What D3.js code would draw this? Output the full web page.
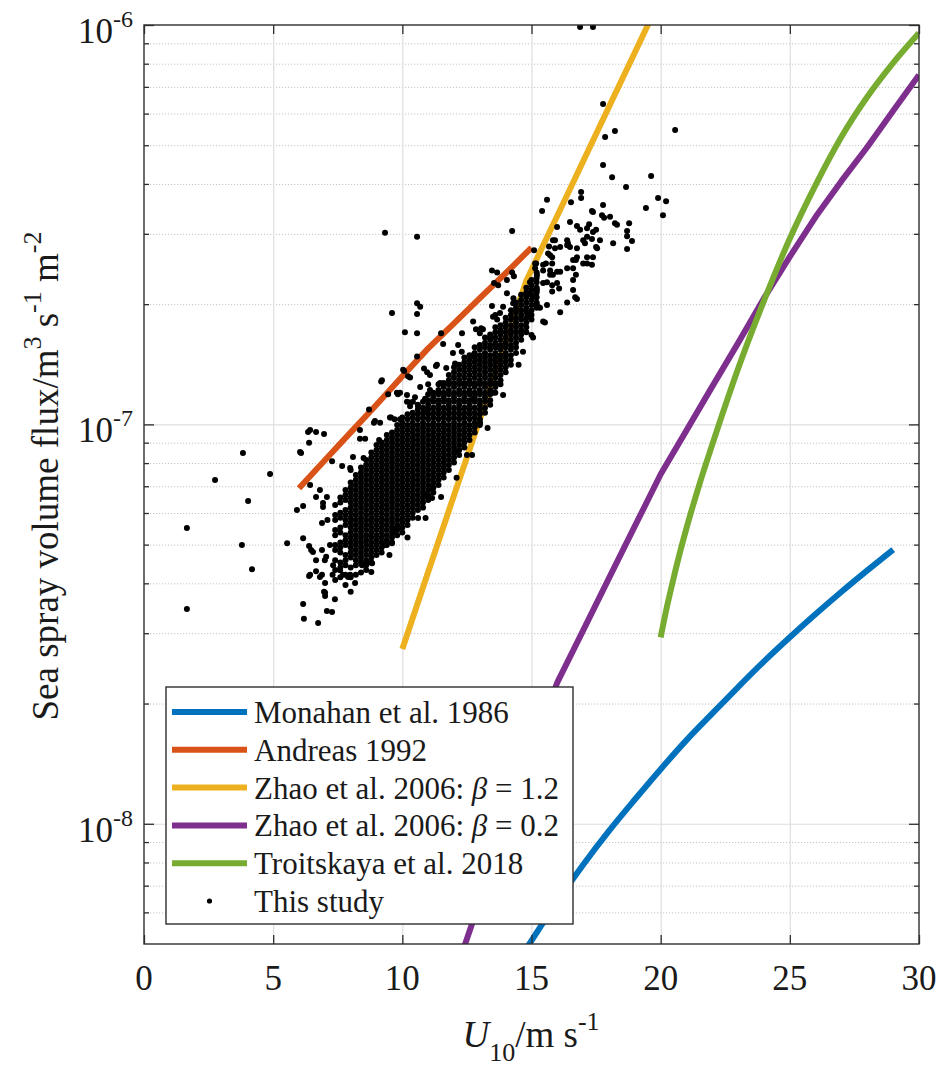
<!DOCTYPE html>
<html>
<head>
<meta charset="utf-8">
<title>Sea spray volume flux vs U10</title>
<script src="https://cdn.jsdelivr.net/npm/d3@7"></script>
<style>
html,body{margin:0;padding:0;background:#fff;}
svg{display:block;}
text{font-family:"Liberation Serif","Times New Roman",Times,serif;fill:#1a1a1a;}
</style>
</head>
<body>
<svg id="chart" width="941" height="1068"></svg>
<script>
// ================= DATA =================
const xDomain = [0, 30];
const yDomain = [5e-9, 1e-6];
const xTickValues = [0, 5, 10, 15, 20, 25, 30];
const yMajorTickValues = [1e-8, 1e-7, 1e-6];
const yTickLabelExponents = ["-8", "-7", "-6"];
const yMinorTickValues = [6e-9,7e-9,8e-9,9e-9,2e-8,3e-8,4e-8,5e-8,6e-8,7e-8,8e-8,9e-8,2e-7,3e-7,4e-7,5e-7,6e-7,7e-7,8e-7,9e-7];

const seriesNames = ["Monahan et al. 1986", "Andreas 1992", "Zhao et al. 2006: β = 1.2",
                     "Zhao et al. 2006: β = 0.2", "Troitskaya et al. 2018", "This study"];

// Monahan et al. 1986
const monahanU = [14,15,16,17,18,19,20,21,22,23,24,25,26,27,28,29];
const monahanFlux = [4.05e-9,5.1e-9,6.4e-9,7.9e-9,9.6e-9,1.15e-8,1.37e-8,1.62e-8,1.89e-8,2.2e-8,2.55e-8,2.93e-8,3.35e-8,3.81e-8,4.31e-8,4.86e-8];
// Andreas 1992
const andreasU = [6,7,8,9,10,11,12,13,14,15];
const andreasFlux = [6.92e-8,8.13e-8,9.55e-8,1.12e-7,1.32e-7,1.55e-7,1.79e-7,2.07e-7,2.39e-7,2.77e-7];
// Zhao et al. 2006, beta = 1.2
const zhao12U = [10,11,12,13,14,14.8,16,17,18,19,20];
const zhao12Flux = [2.74e-8,4.27e-8,6.64e-8,1.03e-7,1.61e-7,2.29e-7,3.33e-7,4.56e-7,6.24e-7,8.53e-7,1.17e-6];
// Zhao et al. 2006, beta = 0.2
const zhao02U = [12,13,14,15,16,17,18,19,20,21,22,23,24,25,26,27,28,29,30];
const zhao02Flux = [4.14e-9,6.41e-9,9.82e-9,1.50e-8,2.26e-8,3.05e-8,4.12e-8,5.56e-8,7.50e-8,9.66e-8,1.245e-7,1.60e-7,2.07e-7,2.63e-7,3.31e-7,4.07e-7,4.95e-7,6.10e-7,7.50e-7];
// Troitskaya et al. 2018
const troitskayaU = [20,20.25,20.5,20.75,21,21.5,22,23,24,25,26,27,28,29,30];
const troitskayaFlux = [2.93e-8,3.51e-8,4.12e-8,4.79e-8,5.50e-8,7.08e-8,8.91e-8,1.38e-7,2.04e-7,2.92e-7,3.98e-7,5.25e-7,6.61e-7,8.04e-7,9.55e-7];

// This study: observations, flux in units of 1e-8 m3 s-1 m-2
const FLUX_UNIT = 1e-8;
// dense core, grouped by U10 column: [U10, [flux ...]]
const obsCoreColumns = [
 [7.4,[6.28,5.93,5.76,5.44,5.28,4.99,4.85,4.57,4.32,4.08]],
 [7.6,[6.56,6.37,6.01,5.84,5.52,5.36,5.06,4.92,4.78,4.51,4.38,4.14]],
 [7.8,[6.85,6.66,6.47,6.10,5.93,5.76,5.60,5.28,5.13,4.99,4.71,4.57,4.44,4.20,3.96]],
 [8.0,[7.15,6.95,6.75,6.56,6.37,6.19,6.01,5.84,5.68,5.52,5.36,5.21,5.06,4.92,4.78,4.64,4.38,4.14]],
 [8.2,[7.47,7.26,7.05,6.85,6.66,6.47,6.28,6.10,5.93,5.76,5.60,5.44,5.28,5.13,4.99,4.85,4.71,4.57,4.44,4.20]],
 [8.4,[7.80,7.58,7.36,7.15,6.95,6.75,6.56,6.37,6.19,6.01,5.84,5.68,5.52,5.36,5.21,5.06,4.92,4.78,4.64,4.51,4.26]],
 [8.6,[8.14,7.91,7.69,7.47,7.26,7.05,6.85,6.66,6.47,6.28,6.10,5.93,5.76,5.60,5.44,5.28,5.13,4.99,4.85,4.71,4.57,4.44,4.32]],
 [8.8,[8.50,8.26,8.03,7.80,7.58,7.36,7.15,6.95,6.75,6.56,6.37,6.19,6.01,5.84,5.68,5.52,5.36,5.21,5.06,4.92,4.78,4.64,4.51]],
 [9.0,[8.88,8.63,8.38,8.14,7.91,7.69,7.47,7.26,7.05,6.85,6.66,6.47,6.28,6.10,5.93,5.76,5.60,5.44,5.28,5.13,4.99,4.85,4.71]],
 [9.2,[9.01,8.75,8.50,8.26,8.03,7.80,7.58,7.36,7.15,6.95,6.75,6.56,6.37,6.19,6.01,5.84,5.68,5.52,5.36,5.21,5.06,4.92,4.78]],
 [9.4,[9.41,9.14,8.88,8.63,8.38,8.14,7.91,7.69,7.47,7.26,7.05,6.85,6.66,6.47,6.28,6.10,5.93,5.76,5.60,5.44,5.28,5.13,4.99]],
 [9.6,[9.54,9.27,9.01,8.75,8.50,8.26,8.03,7.80,7.58,7.36,7.15,6.95,6.75,6.56,6.37,6.19,6.01,5.84,5.68,5.52,5.36,5.21,5.06]],
 [9.8,[9.97,9.68,9.41,9.14,8.88,8.63,8.38,8.14,7.91,7.69,7.47,7.26,7.05,6.85,6.66,6.47,6.28,6.10,5.93,5.76,5.60,5.44,5.28]],
 [10.0,[10.4,10.1,9.82,9.54,9.27,9.01,8.75,8.50,8.26,8.03,7.80,7.58,7.36,7.15,6.95,6.75,6.56,6.37,6.19,6.01,5.84,5.68,5.52,5.36]],
 [10.2,[10.6,10.3,9.97,9.68,9.41,9.14,8.88,8.63,8.38,8.14,7.91,7.69,7.47,7.26,7.05,6.85,6.66,6.47,6.28,6.10,5.93,5.76,5.60]],
 [10.4,[10.7,10.4,10.1,9.82,9.54,9.27,9.01,8.75,8.50,8.26,8.03,7.80,7.58,7.36,7.15,6.95,6.75,6.56,6.37,6.19,6.01,5.84]],
 [10.6,[11.2,10.9,10.6,10.3,9.97,9.68,9.41,9.14,8.88,8.63,8.38,8.14,7.91,7.69,7.47,7.26,7.05,6.85,6.66,6.47,6.28,6.10]],
 [10.8,[11.4,11.0,10.7,10.4,10.1,9.82,9.54,9.27,9.01,8.75,8.50,8.26,8.03,7.80,7.58,7.36,7.15,6.95,6.75,6.56,6.37,6.19]],
 [11.0,[11.9,11.5,11.2,10.9,10.6,10.3,9.97,9.68,9.41,9.14,8.88,8.63,8.38,8.14,7.91,7.69,7.47,7.26,7.05,6.85,6.66,6.47]],
 [11.2,[12.0,11.7,11.4,11.0,10.7,10.4,10.1,9.82,9.54,9.27,9.01,8.75,8.50,8.26,8.03,7.80,7.58,7.36,7.15,6.95,6.75]],
 [11.4,[12.6,12.2,11.9,11.5,11.2,10.9,10.6,10.3,9.97,9.68,9.41,9.14,8.88,8.63,8.38,8.14,7.91,7.69,7.47,7.26,7.05]],
 [11.6,[12.7,12.4,12.0,11.7,11.4,11.0,10.7,10.4,10.1,9.82,9.54,9.27,9.01,8.75,8.50,8.26,8.03,7.80,7.58,7.36]],
 [11.8,[13.3,12.9,12.6,12.2,11.9,11.5,11.2,10.9,10.6,10.3,9.97,9.68,9.41,9.14,8.88,8.63,8.38,8.14,7.91,7.69]],
 [12.0,[13.9,13.5,13.1,12.7,12.4,12.0,11.7,11.4,11.0,10.7,10.4,10.1,9.82,9.54,9.27,9.01,8.75,8.50,8.26,8.03]],
 [12.2,[14.1,13.7,13.3,12.9,12.6,12.2,11.9,11.5,11.2,10.9,10.6,10.3,9.97,9.68,9.41,9.14,8.88,8.63,8.38]],
 [12.4,[14.7,14.3,13.9,13.5,13.1,12.7,12.4,12.0,11.7,11.4,11.0,10.7,10.4,10.1,9.82,9.54,9.27,9.01,8.75]],
 [12.6,[14.9,14.5,14.1,13.7,13.3,12.9,12.6,12.2,11.9,11.5,11.2,10.9,10.6,10.3,9.97,9.68,9.41,9.14]],
 [12.8,[15.6,15.1,14.7,14.3,13.9,13.5,13.1,12.7,12.4,12.0,11.7,11.4,11.0,10.7,10.4,10.1,9.82,9.54]],
 [13.0,[15.8,15.4,14.9,14.5,14.1,13.7,13.3,12.9,12.6,12.2,11.9,11.5,11.2,10.9,10.6,10.3,9.97]],
 [13.2,[16.5,16.0,15.6,15.1,14.7,14.3,13.9,13.5,13.1,12.7,12.4,12.0,11.7,11.4,11.0,10.7]],
 [13.4,[16.8,16.3,15.8,15.4,14.9,14.5,14.1,13.7,13.3,12.9,12.6,12.2,11.9,11.5,11.2]],
 [13.6,[17.5,17.0,16.5,16.0,15.6,15.1,14.7,14.3,13.9,13.5,13.1,12.7,12.4,12.0]],
 [13.8,[17.7,17.2,16.8,16.3,15.8,15.4,14.9,14.5,14.1,13.7,13.3,12.9,12.6]],
 [14.0,[18.5,18.0,17.5,17.0,16.5,16.0,15.6,15.1,14.7,14.3,13.9,13.5]],
 [14.2,[19.3,18.8,18.3,17.7,17.2,16.8,16.3,15.8,15.4,14.9,14.5,14.1]],
 [14.4,[20.2,19.6,19.1,18.5,18.0,17.5,17.0,16.5,16.0,15.6,15.1]],
 [14.6,[21.1,20.5,19.9,19.3,18.8,18.3,17.7,17.2,16.8,16.3]],
 [14.8,[22.0,21.4,20.8,20.2,19.6,19.1,18.5,18.0,17.5,17.0]],
 [15.0,[23.0,22.3,21.7,21.1,20.5,19.9,19.3,18.8,18.3]],
 [15.2,[24.0,23.3,22.7,22.0,21.4,20.8,20.2,19.6]]
];
// scattered observations: [U10, flux]
const obsScattered = [
 [1.66,5.50],[1.66,3.45],[2.75,7.26],[3.83,8.48],[4.03,6.43],[3.79,4.99],[4.18,4.34],[4.88,7.51],[5.54,5.04],[5.92,6.10],
 [6.16,6.25],[6.35,9.57],[6.39,9.00],[6.66,9.57],[6.97,9.46],[6.08,8.48],[6.43,7.05],[6.16,5.19],[6.39,4.96],[6.47,4.85],
 [6.66,4.57],[6.39,4.17],[6.81,4.15],[7.01,4.01],[7.01,3.79],[7.01,3.72],[7.39,3.65],[6.16,3.55],[6.19,3.26],[6.74,3.18],
 [7.08,3.41],[7.28,3.39],[8.17,4.01],[6.54,4.79],[6.89,4.85],[6.89,5.66],[6.93,6.36],[7.08,6.58],[7.28,8.09],[7.67,7.87],
 [7.98,7.78],[8.36,9.20],[8.56,9.20],[8.71,10.9],[8.94,10.2],[9.45,11.9],[9.79,12.0],[9.21,12.9],[10.18,11.85],[10.61,5.83],
 [12.50,8.38],[13.01,10.1],[13.51,12.0],[12.74,11.6],[11.19,6.93],[9.60,5.04],[8.83,4.49],[7.98,4.20],[7.59,4.31],[7.32,4.44],
 [6.04,8.53],[6.66,6.58],[6.81,6.85],[6.93,6.21],[7.05,4.66],[6.66,4.29],[6.43,4.20],[6.89,4.20],[6.97,3.81],[7.90,4.15],
 [7.70,4.20],[8.44,4.44],[8.63,4.49],[9.33,4.99],[9.64,5.38],[9.79,5.50],[11.15,6.54],[10.96,6.66],[12.12,8.53],[8.09,8.29],
 [8.90,10.1],[9.56,10.4],[9.91,10.3],
 [9.33,30.2],[10.57,29.5],[14.25,30.5],[9.60,19.0],[10.57,20.1],[10.69,19.7],[10.57,18.9],[10.10,17.0],[10.57,16.9],[11.50,16.9],
 [10.57,14.8],[9.18,12.8],[10.07,13.6],[10.30,13.1],[10.84,13.8],[11.30,14.0],[12.04,14.2],[11.96,15.1],[12.16,15.8],[12.74,18.1],
 [12.85,17.3],[13.12,17.3],[12.31,16.9],[13.47,24.3],[13.67,24.0],[13.55,22.6],[14.05,21.3],[14.25,24.0],[14.32,23.5],[13.51,18.6],
 [13.67,18.3],[13.40,16.5],[13.67,15.6],[11.07,13.3],[11.46,12.7],[11.07,12.2],[10.69,12.4],[10.88,11.6],[10.49,11.7],[10.18,11.4],
 [9.83,11.9],[10.30,11.1],[10.61,11.1],[10.96,10.9],[9.52,10.4],[11.58,15.9],[12.74,14.9],[11.34,14.1],[10.96,13.5],[10.22,13.2],
 [10.03,13.7],[9.91,12.0],[10.41,11.4],[9.14,10.1],[8.36,9.68],[6.43,9.68],[13.05,17.4],[13.47,19.8],[13.71,22.3],[13.90,19.7],
 [14.05,23.0],[14.29,20.1],[13.78,19.0],
 [14.94,18.8],[15.45,18.1],[15.06,16.5],[14.67,15.2],[16.11,19.1],[15.60,19.9],[15.21,19.9],[14.94,21.3],[15.21,21.7],[15.45,22.6],
 [15.80,22.3],[15.72,23.7],[15.45,24.3],[15.80,25.3],[15.14,25.3],[15.21,23.7],[15.06,20.8],[14.94,22.7],[15.14,24.6],[15.45,25.1],
 [15.72,26.5],[15.91,27.6],[15.91,28.9],[15.99,31.2],[16.38,28.1],[15.83,23.7],[15.99,22.6],[15.60,22.7],[16.61,23.0],[16.72,23.7],
 [16.69,20.8],[16.76,20.6],[16.61,21.7],[16.38,24.6],[16.11,24.1],[16.07,21.9],[15.80,21.5],[16.38,20.2],[15.52,18.0],[15.33,19.6],
 [17.00,25.3],[17.34,25.1],[17.15,26.2],[17.38,26.2],[17.54,27.6],[17.65,28.9],[16.72,25.8],[15.56,25.3],[15.72,24.3],[15.99,24.1],
 [16.61,24.6],[16.76,27.6],[16.76,26.2],[16.61,25.8],[17.15,25.3],[16.49,27.8],[16.11,27.8],[15.83,28.9],[15.68,27.9],[15.64,26.8],
 [15.80,26.2],[16.38,28.9],[16.41,28.4],[17.00,28.9],[17.07,28.4],[17.15,29.5],[17.34,29.1],[17.50,27.8],[18.16,28.4],[18.70,27.5],
 [18.89,28.8],[18.70,29.6],[18.70,30.5],[18.78,31.9],[18.31,31.6],[18.23,31.9],[17.50,30.7],[17.23,31.7],[16.88,30.7],[17.15,31.0],
 [16.76,31.4],[16.49,32.1],[20.09,33.4],[20.21,36.2],[19.90,36.9],[19.43,34.8],[18.04,33.1],[17.81,32.9],[17.73,33.4],[17.34,34.2],
 [17.77,35.4],[15.41,34.2],[16.53,36.0],[15.60,36.5],[16.92,36.9],[16.92,38.2],[18.66,39.3],[19.63,41.9],[18.12,41.6],[17.77,44.6],
 [17.85,52.4],[18.23,54.3],[20.56,54.6],[17.77,63.4],[16.88,98.9],[17.38,98.9],[15.10,27.3],[15.18,25.3],[17.38,34.0],[17.38,30.3],
 // ragged edges of the core
 [8.0,7.69],[8.5,8.24],[9.1,9.14],[9.7,10.3],[10.3,11.35],[11.0,12.6],[11.7,13.85],[12.3,15.2],[13.0,16.9],[13.6,18.8],[14.3,20.7],
 [8.0,3.81],[8.8,4.27],[9.5,4.71],[10.2,5.21],[10.9,5.83],[11.5,6.58],[12.1,7.35],[12.7,8.38],[13.3,9.8],[13.9,11.85],[14.5,14.1],[15.0,16.75],
 [7.1,5.76],[7.2,4.99],[7.0,4.57],[7.3,4.20]
];

// ================= DRAWING =================
const svg = d3.select("#chart");
const plot = {left: 144, right: 919, top: 25, bottom: 944};
const pw = plot.right - plot.left, ph = plot.bottom - plot.top;
const x = d3.scaleLinear().domain(xDomain).range([plot.left, plot.right]);
const y = d3.scaleLog().domain(yDomain).range([plot.bottom, plot.top]);

const lineColors = ["#0072BD", "#D95319", "#EDB120", "#7E2F8E", "#77AC30"];
const axisColor = "#2e2e2e";
const dotR = 3.0;

svg.append("rect").attr("width", 941).attr("height", 1068).attr("fill", "#fff");
svg.append("defs").append("clipPath").attr("id", "plotclip")
  .append("rect").attr("x", plot.left).attr("y", plot.top).attr("width", pw).attr("height", ph);

// minor horizontal grid (dotted)
svg.append("g").attr("transform", `translate(${plot.left},0)`)
  .call(d3.axisLeft(y).tickValues(yMinorTickValues).tickSize(-pw).tickFormat(""))
  .call(g => g.select(".domain").remove())
  .call(g => g.selectAll("line").attr("stroke", "#c4c4c4").attr("stroke-width", 1).attr("stroke-dasharray", "1.2,1.8"));
// major grid
svg.append("g").attr("transform", `translate(${plot.left},0)`)
  .call(d3.axisLeft(y).tickValues([1e-8, 1e-7]).tickSize(-pw).tickFormat(""))
  .call(g => g.select(".domain").remove())
  .call(g => g.selectAll("line").attr("stroke", "#dedede").attr("stroke-width", 1.2));
svg.append("g").attr("transform", `translate(0,${plot.bottom})`)
  .call(d3.axisBottom(x).tickValues(xTickValues.slice(1, -1)).tickSize(-ph).tickFormat(""))
  .call(g => g.select(".domain").remove())
  .call(g => g.selectAll("line").attr("stroke", "#dedede").attr("stroke-width", 1.2));

// model curves
const curveSets = [
  {u: monahanU, f: monahanFlux, curve: d3.curveMonotoneX},
  {u: andreasU, f: andreasFlux, curve: d3.curveLinear},
  {u: zhao12U, f: zhao12Flux, curve: d3.curveLinear},
  {u: zhao02U, f: zhao02Flux, curve: d3.curveLinear},
  {u: troitskayaU, f: troitskayaFlux, curve: d3.curveMonotoneX}
];
const gCurves = svg.append("g").attr("clip-path", "url(#plotclip)");
curveSets.forEach((s, i) => {
  const pts = s.u.map((u, k) => [u, s.f[k]]);
  const line = d3.line().x(d => x(d[0])).y(d => y(d[1])).curve(s.curve);
  gCurves.append("path").datum(pts).attr("d", line)
    .attr("fill", "none").attr("stroke", lineColors[i]).attr("stroke-width", 6)
    .attr("stroke-linejoin", "round").attr("stroke-linecap", "butt");
});

// observations
const obsPoints = [];
obsCoreColumns.forEach(([u, fl]) => fl.forEach(f => obsPoints.push([u, f * FLUX_UNIT])));
obsScattered.forEach(([u, f]) => obsPoints.push([u, f * FLUX_UNIT]));
svg.append("g").attr("clip-path", "url(#plotclip)")
  .selectAll("circle").data(obsPoints).join("circle")
  .attr("cx", d => x(d[0])).attr("cy", d => y(d[1])).attr("r", dotR).attr("fill", "#000");

// axes: ticks inward
function styleAxis(g) {
  g.select(".domain").remove();
  g.selectAll("line").attr("stroke", axisColor).attr("stroke-width", 1.3);
}
svg.append("g").attr("transform", `translate(0,${plot.bottom})`)
  .call(d3.axisBottom(x).tickValues(xTickValues).tickSize(-9).tickFormat("")).call(styleAxis);
svg.append("g").attr("transform", `translate(0,${plot.top})`)
  .call(d3.axisTop(x).tickValues(xTickValues).tickSize(-9).tickFormat("")).call(styleAxis);
svg.append("g").attr("transform", `translate(${plot.left},0)`)
  .call(d3.axisLeft(y).tickValues(yMajorTickValues).tickSize(-10).tickFormat("")).call(styleAxis);
svg.append("g").attr("transform", `translate(${plot.left},0)`)
  .call(d3.axisLeft(y).tickValues(yMinorTickValues).tickSize(-5).tickFormat("")).call(styleAxis);
svg.append("g").attr("transform", `translate(${plot.right},0)`)
  .call(d3.axisRight(y).tickValues(yMajorTickValues).tickSize(-10).tickFormat("")).call(styleAxis);
svg.append("g").attr("transform", `translate(${plot.right},0)`)
  .call(d3.axisRight(y).tickValues(yMinorTickValues).tickSize(-5).tickFormat("")).call(styleAxis);

// frame
svg.append("rect").attr("x", plot.left).attr("y", plot.top).attr("width", pw).attr("height", ph)
  .attr("fill", "none").attr("stroke", axisColor).attr("stroke-width", 1.4);

// x tick labels
svg.append("g").selectAll("text").data(xTickValues).join("text")
  .attr("x", d => x(d)).attr("y", 990).attr("text-anchor", "middle")
  .attr("font-size", 35).text(d => d);

// y tick labels 10^n
yMajorTickValues.forEach((v, i) => {
  const t = svg.append("text").attr("x", 133).attr("y", y(v) + 18).attr("text-anchor", "end").attr("font-size", 35);
  t.append("tspan").text("10");
  t.append("tspan").attr("font-size", 24).attr("dy", -16).text(yTickLabelExponents[i]);
});

// x label
const xl = svg.append("text").attr("x", 531).attr("y", 1047).attr("text-anchor", "middle").attr("font-size", 37);
xl.append("tspan").attr("font-style", "italic").text("U");
xl.append("tspan").attr("font-size", 26).attr("dy", 14).text("10");
xl.append("tspan").attr("dy", -14).text("/m s");
xl.append("tspan").attr("font-size", 26).attr("dy", -17).text("-1");

// y label
const yl = svg.append("text").attr("transform", "translate(58,476) rotate(-90)")
  .attr("text-anchor", "middle").attr("font-size", 37);
yl.append("tspan").text("Sea spray volume flux/m");
yl.append("tspan").attr("font-size", 26).attr("dy", -17).text("3");
yl.append("tspan").attr("dy", 17).text(" s");
yl.append("tspan").attr("font-size", 26).attr("dy", -17).text("-1");
yl.append("tspan").attr("dy", 17).text(" m");
yl.append("tspan").attr("font-size", 26).attr("dy", -17).text("-2");

// legend
const lg = svg.append("g");
lg.append("rect").attr("x", 166).attr("y", 687).attr("width", 407).attr("height", 237)
  .attr("fill", "#fff").attr("stroke", axisColor).attr("stroke-width", 1.4);
const rowY = i => 712 + i * 37.8;
seriesNames.forEach((name, i) => {
  const cy = rowY(i);
  if (i < 5) {
    lg.append("line").attr("x1", 172).attr("x2", 247).attr("y1", cy).attr("y2", cy)
      .attr("stroke", lineColors[i]).attr("stroke-width", 6);
  } else {
    lg.append("circle").attr("cx", 209.5).attr("cy", cy).attr("r", 2.6).attr("fill", "#000");
  }
  const t = lg.append("text").attr("x", 254).attr("y", cy + 11).attr("font-size", 31);
  name.split("β").forEach((part, k) => {
    if (k > 0) t.append("tspan").attr("font-style", "italic").text("β");
    t.append("tspan").text(part);
  });
});
</script>
</body>
</html>
